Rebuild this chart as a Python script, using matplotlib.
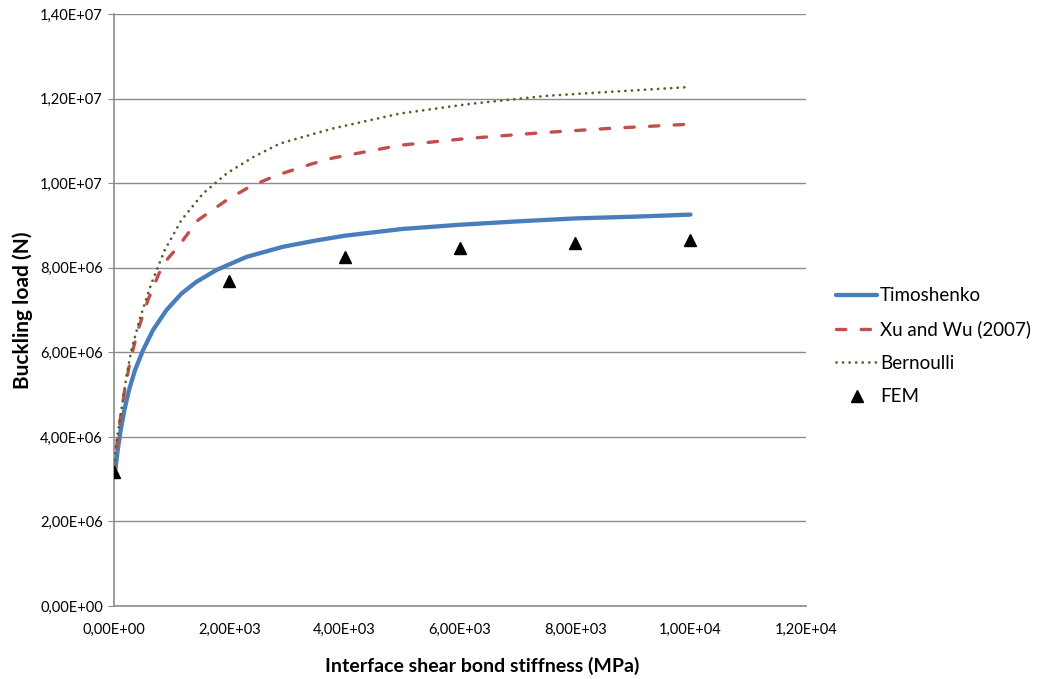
import matplotlib.pyplot as plt
from matplotlib.ticker import FuncFormatter

plt.rcParams['font.family'] = ['Lato', 'DejaVu Sans']

# values
timo_x = [0, 22, 63, 115, 178, 259, 363, 502, 676, 908, 1168, 1429, 1777, 2298, 2934, 3513,
          4000, 5000, 6000, 7000, 8000, 9000, 10000]
timo_y = [3.15e6, 3.22e6, 3.69e6, 4.16e6, 4.63e6, 5.11e6, 5.58e6, 6.05e6, 6.53e6, 7.0e6, 7.39e6, 7.67e6,
          7.95e6, 8.26e6, 8.5e6, 8.65e6, 8.76e6, 8.92e6, 9.02e6, 9.1e6, 9.17e6, 9.21e6, 9.26e6]

xu_x = [0, 5, 97, 184, 283, 415, 589, 780, 908, 1110, 1457, 1950, 2355, 2819, 3454, 3800,
        4957, 6115, 7445, 8600, 10000]
xu_y = [3.15e6, 3.37e6, 4.32e6, 5.11e6, 5.82e6, 6.53e6, 7.24e6, 7.87e6, 8.18e6, 8.5e6, 9.13e6, 9.6e6,
        9.92e6, 10.19e6, 10.47e6, 10.6e6, 10.9e6, 11.06e6, 11.2e6, 11.3e6, 11.4e6]

bern_x = [0, 22, 126, 213, 300, 456, 647, 879, 1168, 1544, 1961, 2413, 2876, 3079, 3800,
          4957, 6115, 7503, 8429, 10000]
bern_y = [3.15e6, 3.69e6, 4.63e6, 5.42e6, 6.05e6, 6.84e6, 7.63e6, 8.42e6, 9.13e6, 9.76e6, 10.24e6,
          10.62e6, 10.94e6, 11.02e6, 11.3e6, 11.65e6, 11.87e6, 12.07e6, 12.15e6, 12.28e6]

fem_x = [0, 2000, 4000, 6000, 8000, 10000]
fem_y = [3.17e6, 7.69e6, 8.25e6, 8.47e6, 8.58e6, 8.65e6]

fig = plt.figure(figsize=(10.37, 6.79), dpi=100)
ax = fig.add_axes([0.110, 0.1075, 0.667, 0.8715])

ax.plot(timo_x, timo_y, color='#4A7EBB', lw=3.1, solid_capstyle='round', solid_joinstyle='round',
        label='Timoshenko', zorder=3)
ax.plot(xu_x, xu_y, color='#C0504D', lw=2.4, dashes=(2.8, 4.6), dash_capstyle='round',
        label='Xu and Wu (2007)', zorder=3)
ax.plot(bern_x, bern_y, color='#4F6228', lw=2.0, dashes=(0.01, 2.35), dash_capstyle='round',
        label='Bernoulli', zorder=3)
ax.plot(fem_x, fem_y, ls='none', marker='^', color='black', ms=8, label='FEM', zorder=4)

ax.set_xlim(0, 12000)
ax.set_ylim(0, 1.4e7)
ax.set_xticks(range(0, 12001, 2000))
ax.set_yticks([i * 2e6 for i in range(8)])


def sci_comma(v, pos):
    return ('%.2E' % v).replace('.', ',')


ax.xaxis.set_major_formatter(FuncFormatter(sci_comma))
ax.yaxis.set_major_formatter(FuncFormatter(sci_comma))

ax.grid(axis='y', color='#8c8c8c', lw=1)
ax.set_axisbelow(True)
for s in ['top', 'right']:
    ax.spines[s].set_visible(False)
for s in ['left', 'bottom']:
    ax.spines[s].set_color('#8c8c8c')
    ax.spines[s].set_linewidth(1.2)
ax.tick_params(axis='x', length=0, pad=12, labelsize=10.5)
ax.tick_params(axis='y', length=4, color='#8c8c8c', pad=4, labelsize=10.5)

ax.set_xlabel('Interface shear bond stiffness (MPa)', fontsize=14, fontweight='bold')
ax.xaxis.set_label_coords(0.532, -0.086)
ax.set_ylabel('Buckling load (N)', fontsize=15, fontweight='bold', labelpad=5)

leg = fig.legend(loc='center left', bbox_to_anchor=(0.790, 0.490), frameon=False, fontsize=13.5,
                 handlelength=2.2, handletextpad=0.15, labelspacing=0.88)

fig.savefig('out.png', dpi=100)
